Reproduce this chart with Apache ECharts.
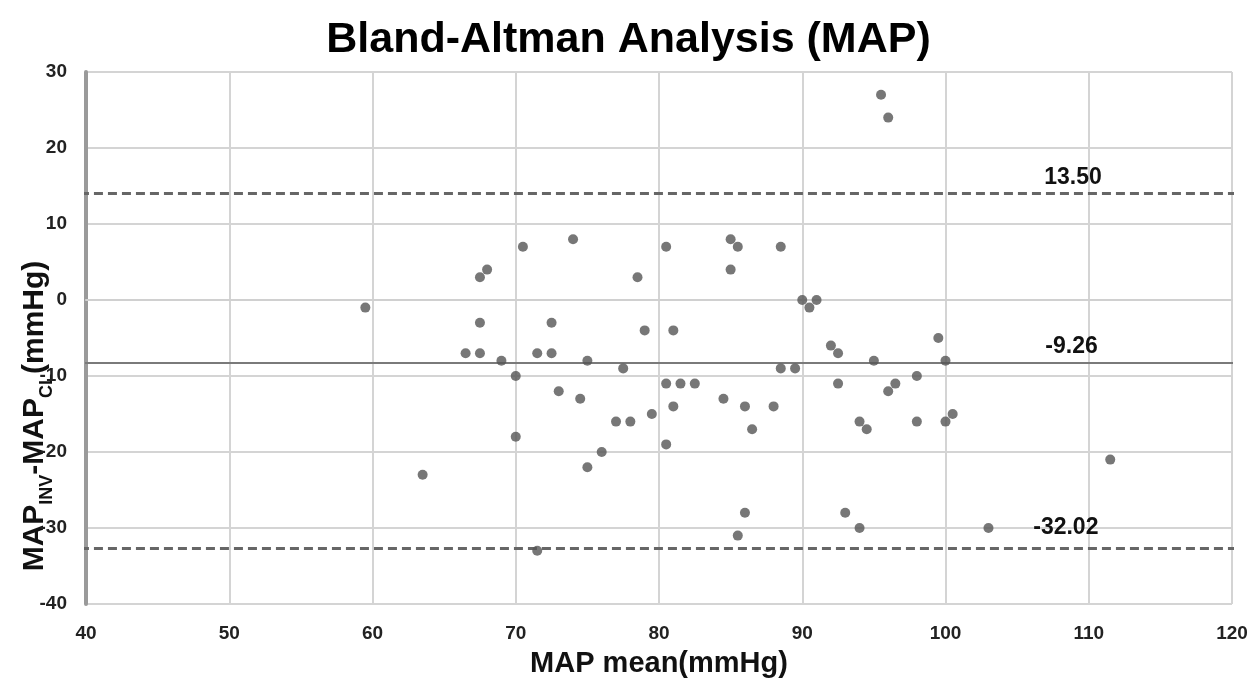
<!DOCTYPE html>
<html>
<head>
<meta charset="utf-8">
<script src="https://cdn.jsdelivr.net/npm/echarts@6/dist/echarts.min.js"></script>
<style>
html,body{margin:0;padding:0;background:#fff;}
#chart{width:1257px;height:679px;}
</style>
</head>
<body>
<div id="chart"></div>
<script>
// Data
var meanMAP = [59.5,63.5,66.5,67.5,68,67.5,67.5,69,70,70,70.5,71.5,71.5,72.5,72.5,73,74,74.5,75,75,76,77,77.5,78,78.5,79,79.5,80.5,80.5,80.5,81,81,81.5,82.5,84.5,85,85,85.5,85.5,86,86,86.5,88,88.5,88.5,89.5,90,90.5,91,92,92.5,92.5,93,94,94,94.5,95,95.5,96,96,96.5,98,98,99.5,100,100,100.5,103,111.5];
var diffMAP = [-1,-23,-7,3,4,-3,-7,-8,-10,-18,7,-7,-33,-3,-7,-12,8,-13,-8,-22,-20,-16,-9,-16,3,-4,-15,7,-11,-19,-4,-14,-11,-11,-13,8,4,7,-31,-14,-28,-17,-14,7,-9,-9,0,-1,0,-6,-7,-11,-28,-16,-30,-17,-8,27,24,-12,-11,-10,-16,-5,-8,-16,-15,-30,-21];
// Limit lines (as drawn) and their labels
var limitNames = ['upper','mean','lower'];
var limitValues = [14.0, -8.3, -32.7];
var limitLabels = ['13.50', '-9.26', '-32.02'];
var limitLabelX = [108.9, 108.8, 108.4];
var lineSpanX = [38.6, 120.4];
var xTicks = {min: 40, max: 120, interval: 10};
var yTicks = {min: -40, max: 30, interval: 10};

var chart = echarts.init(document.getElementById('chart'), null, {renderer: 'canvas'});
var sans = "'Liberation Sans',Arial,sans-serif";

var series = [{
  type: 'scatter',
  data: meanMAP.map(function (x, i) { return [x, diffMAP[i]]; }),
  symbolSize: 10,
  itemStyle: {color: '#555555'},
  z: 5
}];
limitValues.forEach(function (v, i) {
  var dashed = i !== 1;
  series.push({
    type: 'line',
    name: limitNames[i],
    data: [[lineSpanX[0], v], [lineSpanX[1], v]],
    clip: false,
    symbol: 'none',
    silent: true,
    lineStyle: dashed ? {color: '#666666', width: 3, type: [9, 5]} : {color: '#7a7a7a', width: 2, type: 'solid'},
    z: 3,
    markPoint: {
      symbol: 'circle', symbolSize: 0, silent: true,
      data: [{
        coord: [limitLabelX[i], v],
        label: {
          show: true, formatter: limitLabels[i], position: 'inside',
          offset: [0, i === 2 ? -21 : -16],
          color: '#111', fontSize: 23, fontWeight: 'bold', fontFamily: sans
        }
      }]
    }
  });
});

chart.setOption({
  animation: false,
  backgroundColor: '#fff',
  title: {
    text: 'Bland-Altman Analysis (MAP)',
    left: 'center', top: 14,
    textStyle: {fontSize: 43, fontWeight: 'bold', color: '#000', fontFamily: sans}
  },
  grid: {left: 86, right: 25, top: 72, bottom: 75, containLabel: false, outerBoundsMode: 'none'},
  xAxis: {
    type: 'value', min: xTicks.min, max: xTicks.max, interval: xTicks.interval,
    name: 'MAP mean(mmHg)', nameLocation: 'middle', nameGap: 45,
    nameTextStyle: {fontSize: 29, fontWeight: 'bold', color: '#111', fontFamily: sans},
    axisLine: {show: true, lineStyle: {color: '#d0d0d0', width: 2}},
    axisTick: {show: false},
    axisLabel: {margin: 20, fontSize: 19, fontWeight: 'bold', color: '#222', fontFamily: sans},
    splitLine: {show: true, lineStyle: {color: '#d4d4d4', width: 2}}
  },
  yAxis: {
    type: 'value', min: yTicks.min, max: yTicks.max, interval: yTicks.interval,
    axisLine: {show: true, onZero: false, lineStyle: {color: '#9a9a9a', width: 4}},
    axisTick: {show: false},
    axisLabel: {margin: 19, fontSize: 19, fontWeight: 'bold', color: '#222', fontFamily: sans},
    splitLine: {show: true, lineStyle: {color: '#d4d4d4', width: 2}}
  },
  graphic: [{
    type: 'text',
    x: 31, y: 416,
    rotation: Math.PI / 2,
    style: {
      text: '{a|MAP}{s|INV}{a|-MAP}{s|CL}{a|(mmHg)}',
      align: 'center', verticalAlign: 'middle',
      rich: {
        a: {fontSize: 30, fontWeight: 'bold', fill: '#111', fontFamily: sans, verticalAlign: 'bottom', lineHeight: 38},
        s: {fontSize: 18, fontWeight: 'bold', fill: '#111', fontFamily: sans, verticalAlign: 'bottom', lineHeight: 38, padding: [0, 0, -6, 0]}
      }
    }
  }],
  series: series
});
</script>
</body>
</html>
